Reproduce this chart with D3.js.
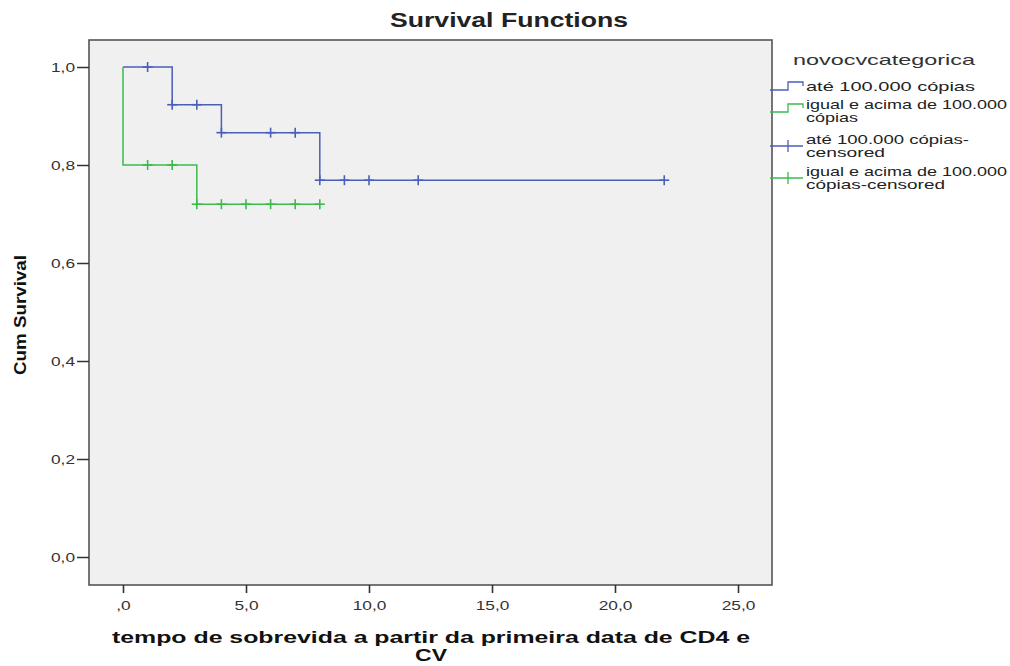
<!DOCTYPE html>
<html>
<head>
<meta charset="utf-8">
<title>Survival Functions</title>
<script src="https://d3js.org/d3.v7.min.js"></script>
<style>
  body { margin: 0; background: #fff; }
  text { font-family: "Liberation Sans", Arial, sans-serif; }
</style>
</head>
<body>
<script>
// step data: time of each step and survival after it
var blueSteps = [[0, 1.0], [2, 0.923], [4, 0.866], [8, 0.769], [22, 0.769]];
var greenSteps = [[0, 1.0], [0, 0.8], [3, 0.72], [8, 0.72]];
var blueCensored = [1, 2, 3, 4, 6, 7, 8, 9, 10, 12, 22];
var greenCensored = [1, 2, 3, 4, 5, 6, 7, 8];
var xTicks = [0, 5, 10, 15, 20, 25];
var yTicks = [0, 0.2, 0.4, 0.6, 0.8, 1.0];
var legendLabels = [
    ["até 100.000 cópias"],
    ["igual e acima de 100.000", "cópias"],
    ["até 100.000 cópias-", "censored"],
    ["igual e acima de 100.000", "cópias-censored"]
];
var blue = "#4a5fb8", green = "#3dba4c";

var svg = d3.select("body").append("svg")
    .attr("width", 1010).attr("height", 666);

var plotL = 89, plotR = 772, plotT = 40, plotB = 585;

var x = d3.scaleLinear().domain([0, 25]).range([123, 738]);
var y = d3.scaleLinear().domain([0, 1]).range([557, 67]);

// text in the reference is stretched wide, so fit it to the measured width
function stretch(sel, w) {
    sel.attr("textLength", w).attr("lengthAdjust", "spacingAndGlyphs");
    return sel;
}

// plot background
svg.append("rect")
    .attr("x", plotL).attr("y", plotT)
    .attr("width", plotR - plotL).attr("height", plotB - plotT)
    .attr("fill", "#f0f0f0")
    .attr("stroke", "#555").attr("stroke-width", 1.6);

// title
stretch(svg.append("text")
    .attr("x", 390).attr("y", 27)
    .style("font-size", "20px").style("font-weight", "bold")
    .attr("fill", "#222")
    .text("Survival Functions"), 238);

// x axis
var xAxis = svg.append("g")
    .attr("transform", "translate(0," + plotB + ")")
    .call(d3.axisBottom(x).tickValues(xTicks).tickSize(8).tickSizeOuter(0)
        .tickFormat(function (d) { return d === 0 ? ",0" : d3.format(".1f")(d).replace(".", ","); }));
xAxis.select(".domain").remove();
xAxis.selectAll("line").attr("stroke", "#333").attr("stroke-width", 1.6);
xAxis.selectAll("text").style("font-size", "13px").attr("fill", "#333").attr("dy", "1.05em")
    .each(function () { stretch(d3.select(this), this.getComputedTextLength() * 1.33); });

// y axis
var yAxis = svg.append("g")
    .attr("transform", "translate(" + plotL + ",0)")
    .call(d3.axisLeft(y).tickValues(yTicks).tickSize(12).tickPadding(2).tickSizeOuter(0)
        .tickFormat(function (d) { return d3.format(".1f")(d).replace(".", ","); }));
yAxis.select(".domain").remove();
yAxis.selectAll("line").attr("stroke", "#333").attr("stroke-width", 1.5);
yAxis.selectAll("text").style("font-size", "13px").attr("fill", "#333")
    .each(function () { stretch(d3.select(this), this.getComputedTextLength() * 1.33); });

// axis titles
stretch(svg.append("text")
    .attr("transform", "translate(26,375) rotate(-90)")
    .style("font-size", "17px").style("font-weight", "bold")
    .attr("fill", "#111")
    .text("Cum Survival"), 120);

stretch(svg.append("text")
    .attr("x", 112).attr("y", 643)
    .style("font-size", "17px").style("font-weight", "bold")
    .attr("fill", "#111")
    .text("tempo de sobrevida a partir da primeira data de CD4 e"), 638);
stretch(svg.append("text")
    .attr("x", 415).attr("y", 661)
    .style("font-size", "17px").style("font-weight", "bold")
    .attr("fill", "#111")
    .text("CV"), 32);

// step lines
var line = d3.line().x(function (d) { return x(d[0]); }).y(function (d) { return y(d[1]); }).curve(d3.curveStepAfter);

svg.append("path").datum(blueSteps)
    .attr("d", line).attr("fill", "none").attr("stroke", blue).attr("stroke-width", 1.5);
svg.append("path").datum(greenSteps)
    .attr("d", line).attr("fill", "none").attr("stroke", green).attr("stroke-width", 1.5);

// survival value at time t for censor marks
function survAt(steps, t) {
    var s = steps[0][1];
    steps.forEach(function (d) { if (d[0] <= t) s = d[1]; });
    return s;
}

function drawCensors(times, steps, color) {
    var g = svg.append("g").attr("stroke", color).attr("stroke-width", 1.6);
    times.forEach(function (t) {
        var cx = x(t), cy = y(survAt(steps, t));
        g.append("line").attr("x1", cx - 5).attr("x2", cx + 5).attr("y1", cy).attr("y2", cy);
        g.append("line").attr("x1", cx).attr("x2", cx).attr("y1", cy - 5).attr("y2", cy + 5);
    });
}
drawCensors(blueCensored, blueSteps, blue);
drawCensors(greenCensored, greenSteps, green);

// legend
stretch(svg.append("text")
    .attr("x", 793).attr("y", 65)
    .style("font-size", "15px").attr("fill", "#333")
    .text("novocvcategorica"), 182);

var legendY = [91, 109, 144, 176];
var legendWidths = [[169], [201, 52], [163, 79], [201, 139]];
var legendColors = [blue, green, blue, green];
legendLabels.forEach(function (lines, i) {
    var ly = legendY[i];
    var c = legendColors[i];
    if (i < 2) {
        var iy = ly + (lines.length > 1 ? 3 : -1);
        svg.append("path")
            .attr("d", "M770," + iy + "H788V" + (iy - 8) + "H803V" + (iy - 4))
            .attr("fill", "none").attr("stroke", c).attr("stroke-width", 1.3);
    } else {
        var cy = ly + 2;
        svg.append("path")
            .attr("d", "M770," + cy + "H803M788," + (cy - 6) + "V" + (cy + 6))
            .attr("fill", "none").attr("stroke", c).attr("stroke-width", 1.3);
    }
    lines.forEach(function (s, j) {
        stretch(svg.append("text")
            .attr("x", 806).attr("y", ly + j * 13)
            .style("font-size", "13px").attr("fill", "#222")
            .text(s), legendWidths[i][j]);
    });
});
</script>
</body>
</html>
